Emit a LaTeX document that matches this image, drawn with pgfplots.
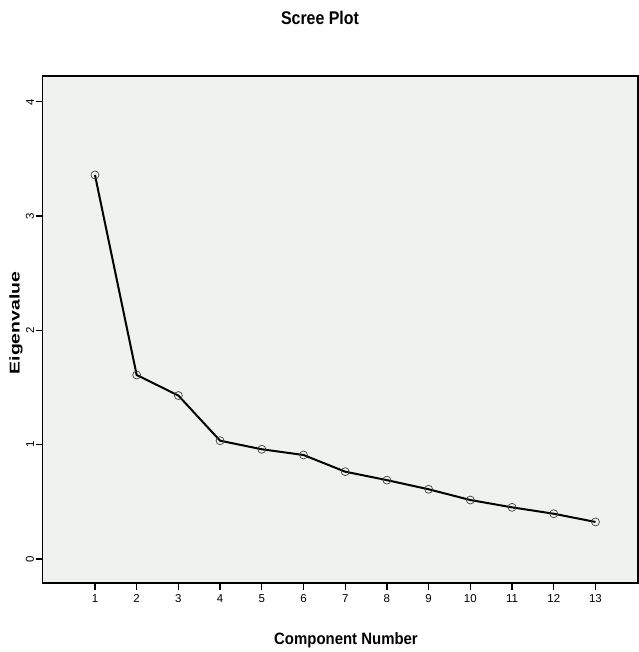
\documentclass[border=0pt]{standalone}
\usepackage{pgfplots}
\pgfplotsset{compat=1.18}
\usepackage{graphicx}
\usepackage{fontspec}
\setmainfont{Liberation Sans}
\definecolor{bg}{RGB}{240,242,240}
\begin{document}
\begin{tikzpicture}[x=1bp,y=1bp]
\useasboundingbox (0,0) rectangle (639,652);
\begin{axis}[
  at={(42.7bp,69bp)}, anchor=south west,
  width=595.3bp, height=507bp, scale only axis,
  xmin=-0.253, xmax=14.02, ymin=-0.21, ymax=4.226,
  axis background/.style={fill=bg},
  axis line style={line width=1.3bp},
  xtick={1,...,13}, ytick={0,...,4},
  xtick pos=bottom, ytick pos=left,
  tick align=outside,
  major tick length=7bp,
  every tick/.style={black, line width=1.3bp},
  /pgf/number format/assume math mode=true,
  ticklabel style={font=\fontsize{11.5}{13}\selectfont},
  yticklabel style={rotate=90, anchor=south, inner sep=1.5bp},
  xticklabel style={yshift=-1bp},
]
\addplot[black, line width=2bp, mark=o, mark size=4bp,
  mark options={draw=black!75, fill=bg, line width=0.7bp}]
  coordinates {(1,3.36)(2,1.61)(3,1.43)(4,1.035)(5,0.96)(6,0.91)(7,0.764)(8,0.69)(9,0.61)(10,0.516)(11,0.452)(12,0.396)(13,0.324)};
\end{axis}
\node[font=\bfseries\fontsize{16}{18}\selectfont] at (320,634) {\scalebox{1}[1.15]{Scree Plot}};
\node[font=\bfseries\fontsize{15}{18}\selectfont] at (346,12) {\scalebox{1}[1.1]{Component Number}};
\node[rotate=90, font=\bfseries\fontsize{15}{18}\selectfont] at (16,329) {\scalebox{1.3}[0.95]{Eigenvalue}};
\end{tikzpicture}
\end{document}
